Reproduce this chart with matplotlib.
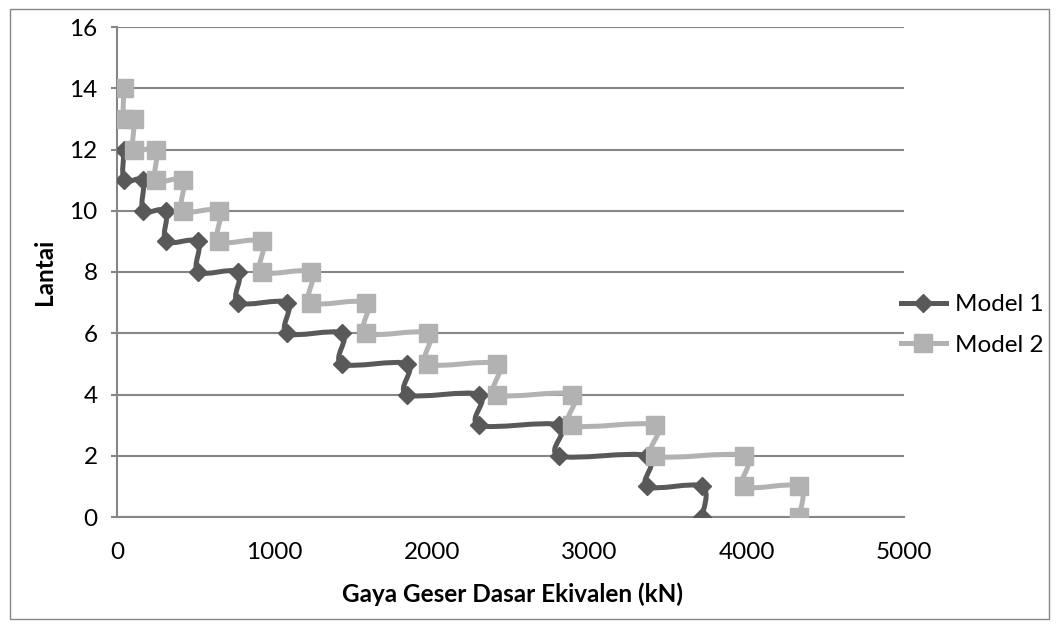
import numpy as np
import matplotlib
matplotlib.use("Agg")
import matplotlib.pyplot as plt
from matplotlib.path import Path
from matplotlib.patches import PathPatch, Rectangle
from matplotlib.lines import Line2D

plt.rcParams['font.family'] = ['Lato', 'DejaVu Sans']

# story shear per floor (kN), floor 1 first
lantai_m1 = [1, 2, 3, 4, 5, 6, 7, 8, 9, 10, 11, 12]
geser_m1 = [3717, 3367, 2808, 2300, 1842, 1429, 1080, 769, 515, 311, 165, 45]
lantai_m2 = [1, 2, 3, 4, 5, 6, 7, 8, 9, 10, 11, 12, 13, 14]
geser_m2 = [4333, 3983, 3418, 2891, 2414, 1976, 1582, 1232, 921, 648, 419, 248, 108, 44]

xticks = [0, 1000, 2000, 3000, 4000, 5000]
yticks = [0, 2, 4, 6, 8, 10, 12, 14, 16]

c1 = '#595959'
c2 = '#b2b2b2'
grid_c = '#868686'
fs = 17.5


def step_points(lantai, geser):
    # each floor: top of story and bottom of story at same shear
    xs, ys = [], []
    for k, v in sorted(zip(lantai, geser), reverse=True):
        xs += [v, v]
        ys += [k, k - 1]
    return np.array(xs, float), np.array(ys, float)


def smooth_path(xs, ys):
    # Excel-like smoothed line (cubic bezier through the points)
    p = np.column_stack([xs, ys])
    n = len(p)
    verts = [p[0]]
    codes = [Path.MOVETO]
    for i in range(n - 1):
        p0 = p[i - 1] if i > 0 else p[i]
        p3 = p[i + 2] if i + 2 < n else p[i + 1]
        c1_ = p[i] + (p[i + 1] - p0) / 6
        c2_ = p[i + 1] - (p3 - p[i]) / 6
        verts += [c1_, c2_, p[i + 1]]
        codes += [Path.CURVE4] * 3
    return Path(verts, codes)


fig = plt.figure(figsize=(10.59, 6.28), dpi=100)
ax = fig.add_axes([117 / 1059, 1 - 517 / 628, (904 - 117) / 1059, (517 - 27) / 628])

series = [(lantai_m1, geser_m1, c1, 'D', 9.5, 'Model 1'),
          (lantai_m2, geser_m2, c2, 's', 13.5, 'Model 2')]
handles = []
for lantai, geser, col, mk, ms, lab in series:
    xs, ys = step_points(lantai, geser)
    ax.add_patch(PathPatch(smooth_path(xs, ys), fill=False, edgecolor=col,
                           lw=3.6, joinstyle='round', capstyle='round', zorder=3))
    ax.plot(xs, ys, linestyle='none', marker=mk, ms=ms, color=col,
            mec=col, zorder=4)
    handles.append(Line2D([], [], color=col, lw=3.6, marker=mk, ms=ms, mec=col))

ax.set_xlim(0, 5000)
ax.set_ylim(0, 16)
ax.set_xticks(xticks)
ax.set_yticks(yticks)
ax.yaxis.grid(True, color=grid_c, lw=1.5)
ax.set_axisbelow(True)
for s in ['top', 'right']:
    ax.spines[s].set_visible(False)
for s in ['left', 'bottom']:
    ax.spines[s].set_color(grid_c)
    ax.spines[s].set_linewidth(1.5)
ax.tick_params(axis='y', length=4, width=1.5, color=grid_c, pad=10, labelsize=fs)
ax.tick_params(axis='x', length=0, pad=18, labelsize=fs)

fig.text(513 / 1059, 1 - 594 / 628, 'Gaya Geser Dasar Ekivalen (kN)',
         ha='center', va='center', fontsize=fs, fontweight='bold')
fig.text(44 / 1059, 1 - 272 / 628, 'Lantai', rotation=90,
         ha='center', va='center', fontsize=fs, fontweight='bold')

fig.legend(handles, ['Model 1', 'Model 2'], loc='center left',
           bbox_to_anchor=(879 / 1059, 1 - 325 / 628), frameon=False,
           fontsize=fs, handlelength=1.85, handletextpad=0.37, labelspacing=0.8)

fig.add_artist(Rectangle((10 / 1059, 9 / 628), 1039 / 1059, 610 / 628,
                         transform=fig.transFigure, fill=False,
                         edgecolor=grid_c, lw=1))

fig.savefig('out.png', dpi=100)
